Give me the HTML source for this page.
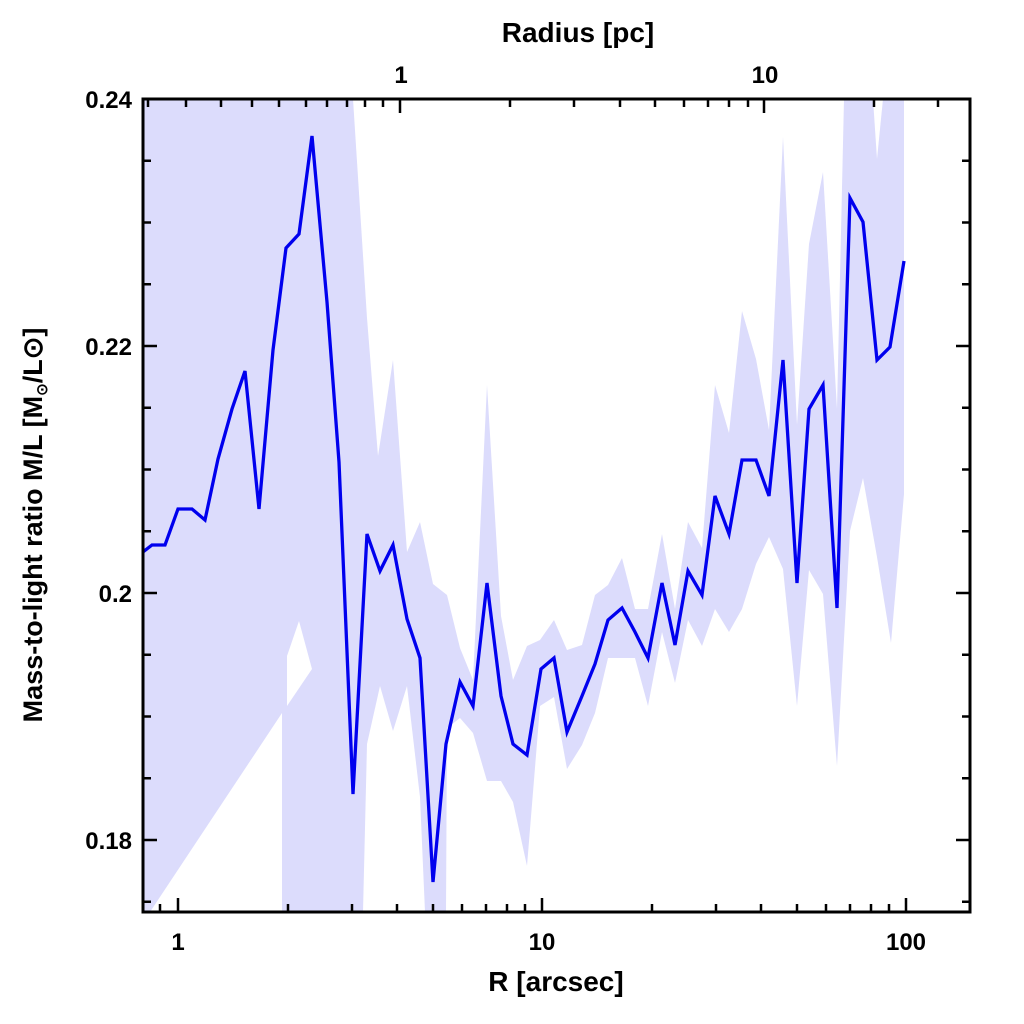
<!DOCTYPE html>
<html><head><meta charset="utf-8"><style>html,body{margin:0;padding:0;background:#fff}svg{display:block}text{font-family:"Liberation Sans",sans-serif;font-weight:bold;fill:#000}</style></head><body>
<svg width="1024" height="1024" viewBox="0 0 1024 1024" xmlns="http://www.w3.org/2000/svg">
<defs><clipPath id="c"><rect x="143" y="99" width="827" height="813"/></clipPath></defs>
<g clip-path="url(#c)" fill="#dcdcfc">
<rect x="143" y="99" width="210" height="813"/>
<polygon points="353,99 367,318 378,456 393,360 407,552 420,522 433,584 447,595 460,648 473,680 487,385 501,616 513,680 527,646 540,640 554,620 567,650 582,645 595,595 608,585 622,558 635,609 648,609 662,534 675,609 688,522 702,548 715,385 729,433 742,311 756,359 769,430 783,137 797,425 809,244 823,172 837,409 844,99 873,99 877,159 883,99 904,99 904,494 891,643 877,557 863,478 850,531 837,766 823,594 809,570 797,706 783,569 769,537 756,564 742,609 729,632 715,609 702,646 688,620 675,683 662,632 648,706 635,658 622,658 608,658 595,713 582,745 567,769 554,697 540,706 527,866 513,802 501,781 487,781 473,733 460,718 447,728 446,912 425,912 420,797 407,686 393,731 380,686 367,744 363,912 353,912"/>
</g>
<g fill="#fff">
<polygon points="150,912 282,713 282,912"/>
<polygon points="287,656 299,621 312,669 287,706"/>
</g>
<polyline clip-path="url(#c)" fill="none" stroke="#0000ee" stroke-width="3.3" stroke-linejoin="miter" points="143,552 152,545 165,545 178,509 192,509 205,520 218,459 232,409 245,371 259,509 273,350 286,248 299,234 312,136 327,302 339,462 353,794 367,534 380,571 393,545 407,619 420,658 433,882 446,744 460,682 473,706 487,583 501,696 513,744 527,755 541,669 554,658 567,732 582,696 595,664 608,620 622,608 635,632 648,658 662,583 675,645 688,571 702,595 715,496 729,534 742,460 756,460 769,496 783,360 797,583 809,409 823,385 837,608 850,198 863,222 877,360 890,347 904,261"/>
<rect x="143" y="99" width="827" height="813" fill="none" stroke="#000" stroke-width="3"/>
<g stroke="#000" stroke-width="2.5">
<path d="M143,99h14M143,160.75h8M143,222.5h8M143,284.25h8M143,346h14M143,407.75h8M143,469.5h8M143,531.25h8M143,593h14M143,654.75h8M143,716.5h8M143,778.25h8M143,840h14M143,901.75h8"/>
<path d="M970,99h-14M970,160.75h-8M970,222.5h-8M970,284.25h-8M970,346h-14M970,407.75h-8M970,469.5h-8M970,531.25h-8M970,593h-14M970,654.75h-8M970,716.5h-8M970,778.25h-8M970,840h-14M970,901.75h-8"/>
<path d="M143,912v-8M160,912v-8M178,912v-14M288,912v-8M352,912v-8M397,912v-8M433,912v-8M462,912v-8M486,912v-8M507,912v-8M525,912v-8M542,912v-14M652,912v-8M716,912v-8M761,912v-8M797,912v-8M826,912v-8M850,912v-8M871,912v-8M889,912v-8M906,912v-14"/>
<path d="M148,99v8M186,99v8M221,99v8M252,99v8M279,99v8M306,99v8M327,99v8M347,99v8M365,99v8M383,99v8M400,99v14M510,99v8M574,99v8M620,99v8M655,99v8M684,99v8M708,99v8M729,99v8M748,99v8M764,99v14M874,99v8M938,99v8"/>
</g>
<g font-size="24">
<text x="132" y="108" text-anchor="end">0.24</text>
<text x="132" y="355" text-anchor="end">0.22</text>
<text x="132" y="602" text-anchor="end">0.2</text>
<text x="132" y="849" text-anchor="end">0.18</text>
<text x="178" y="950" text-anchor="middle">1</text>
<text x="542" y="950" text-anchor="middle">10</text>
<text x="906" y="950" text-anchor="middle">100</text>
<text x="401" y="83" text-anchor="middle">1</text>
<text x="765" y="83" text-anchor="middle">10</text>
</g>
<text x="578" y="42" font-size="28" text-anchor="middle">Radius [pc]</text>
<text x="556" y="991" font-size="28" text-anchor="middle">R [arcsec]</text>
<text transform="translate(42,525) rotate(-90)" font-size="27" text-anchor="middle">Mass-to-light ratio M/L [M<tspan font-size="15" dy="5">⊙</tspan><tspan dy="-5">/L⊙]</tspan></text>
</svg>
</body></html>
